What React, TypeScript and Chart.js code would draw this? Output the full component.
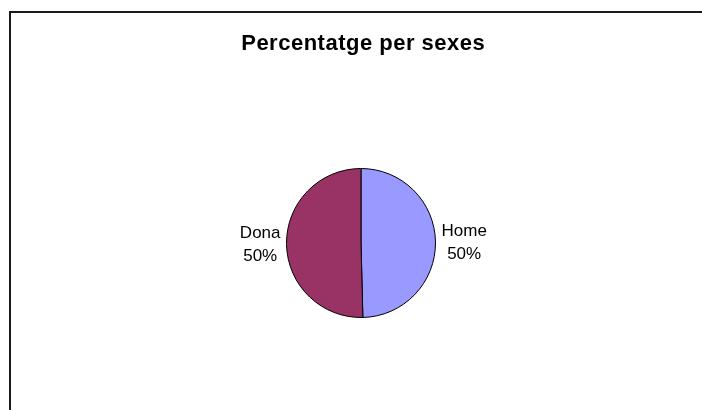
import React, { useEffect, useRef } from "react";
import { Chart, registerables } from "chart.js";

Chart.register(...registerables);

const categories = ["Home", "Dona"];
const values = [49.6, 50.4];
const percentLabels = ["50%", "50%"];
const colors = ["#9999FF", "#993366"];
const titleText = "Percentatge per sexes";

const framePlugin = {
  id: "frame",
  beforeDraw(chart: any) {
    const ctx = chart.ctx;
    ctx.save();
    ctx.fillStyle = "#ffffff";
    ctx.fillRect(0, 0, chart.width, chart.height);
    ctx.strokeStyle = "#1a1a1a";
    ctx.lineWidth = 2;
    ctx.beginPath();
    ctx.moveTo(10, chart.height + 2);
    ctx.lineTo(10, 12);
    ctx.lineTo(chart.width + 2, 12);
    ctx.stroke();
    ctx.restore();
  },
  afterDraw(chart: any) {
    const ctx = chart.ctx;
    ctx.save();
    ctx.fillStyle = "#000";
    ctx.font = "bold 22px 'Liberation Sans', Arial, sans-serif";
    (ctx as any).letterSpacing = "0.5px";
    ctx.textAlign = "left";
    ctx.textBaseline = "alphabetic";
    const tw = ctx.measureText(titleText).width - 0.5;
    ctx.fillText(titleText, 363 - tw / 2, 50);
    (ctx as any).letterSpacing = "0px";

    const meta = chart.getDatasetMeta(0);
    ctx.font = "17px 'Liberation Sans', Arial, sans-serif";
    meta.data.forEach((arc: any, i: number) => {
      const p = arc.getProps(["x", "y", "startAngle", "endAngle", "outerRadius"], true);
      const mid = (p.startAngle + p.endAngle) / 2;
      const r = p.outerRadius + 6;
      const ax = p.x + Math.cos(mid) * r;
      const ay = p.y + Math.sin(mid) * r;
      const lines = [categories[i], percentLabels[i]];
      const w = Math.max(...lines.map((l) => ctx.measureText(l).width));
      const cx = Math.cos(mid) >= 0 ? ax + w / 2 : ax - w / 2;
      const lh = 23;
      ctx.textAlign = "center";
      ctx.textBaseline = "middle";
      lines.forEach((l, j) => {
        ctx.fillText(l, cx, ay + 1 - lh / 2 + j * lh);
      });
    });
    ctx.restore();
  },
};

export default function App() {
  const ref = useRef<HTMLCanvasElement>(null);
  useEffect(() => {
    if (!ref.current) return;
    const chart = new Chart(ref.current, {
      type: "pie",
      data: {
        labels: categories,
        datasets: [
          {
            data: values,
            backgroundColor: colors,
            borderColor: "#000000",
            borderWidth: 1,
          },
        ],
      },
      options: {
        animation: false,
        responsive: false,
        maintainAspectRatio: false,
        layout: { padding: { left: 286, right: 266, top: 168, bottom: 92 } },
        plugins: {
          legend: { display: false },
          title: { display: false },
          tooltip: { enabled: false },
        },
      },
      plugins: [framePlugin],
    });
    return () => chart.destroy();
  }, []);
  return (
    <div style={{ position: "fixed", left: 0, top: 0, width: 702, height: 410, background: "#fff" }}>
      <canvas ref={ref} width={702} height={410} style={{ display: "block", width: 702, height: 410 }} />
    </div>
  );
}
